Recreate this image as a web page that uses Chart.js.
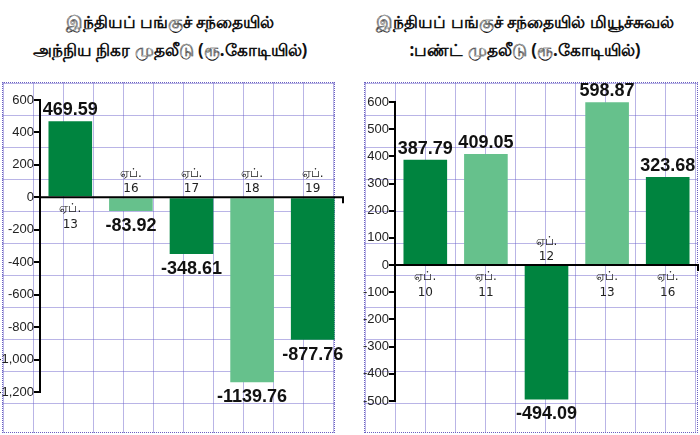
<!DOCTYPE html>
<html lang="ta">
<head>
<meta charset="UTF-8">
<title>FPI / MF</title>
<script src="https://cdn.jsdelivr.net/npm/chart.js"></script>
<style>
  body { margin: 0; width: 700px; height: 435px; background: #fff; position: relative; overflow: hidden; font-family: 'Noto Sans', 'DejaVu Sans', sans-serif; }
  .title { position: absolute; top: 8px; text-align: center; font-weight: bold; font-size: 17px; line-height: 28px; color: #111; }
  .panel {
    position: absolute; top: 82px; height: 351px; box-sizing: border-box;
    border: 1px dotted #6a5fc0;
    background-image:
      linear-gradient(to right, rgba(100,90,200,0.45) 1px, transparent 1px),
      linear-gradient(to bottom, rgba(100,90,200,0.45) 1px, transparent 1px);
    background-size: 30px 32px;
  }
  canvas { position: absolute; }
</style>
</head>
<body>
<div class="title" style="left:0;width:340px;">இந்தியப் பங்குச் சந்தையில்<br>அந்நிய நிகர முதலீடு (ரூ.கோடியில்)</div>
<div class="title" style="left:350px;width:350px;">இந்தியப் பங்குச் சந்தையில் மியூச்சுவல்<br>:பண்ட் முதலீடு (ரூ.கோடியில்)</div>
<div class="panel" style="left:2px;width:333px;"></div>
<div class="panel" style="left:364px;width:334px;"></div>
<div style="position:absolute;left:0;top:60px;width:345px;height:375px;"><canvas id="fpiChart"></canvas></div>
<div style="position:absolute;left:355px;top:60px;width:345px;height:375px;"><canvas id="mfChart"></canvas></div>
<script>
// Data
const fpiDays = ['13', '16', '17', '18', '19'];
const fpiValues = [469.59, -83.92, -348.61, -1139.76, -877.76];
const mfDays = ['10', '11', '12', '13', '16'];
const mfValues = [387.79, 409.05, -494.09, 598.87, 323.68];
const monthLabel = 'ஏப்.';

const DARK = '#00843f';
const LIGHT = '#66c18c';
const barColors = [DARK, LIGHT, DARK, LIGHT, DARK];

// zero line + category labels + value labels
const labelPlugin = {
  id: 'labelPlugin',
  afterDatasetsDraw(chart) {
    const ctx = chart.ctx;
    const y = chart.scales.y;
    const area = chart.chartArea;
    const y0 = y.getPixelForValue(0);
    ctx.save();
    ctx.strokeStyle = '#000';
    ctx.lineWidth = 2;
    ctx.beginPath();
    ctx.moveTo(area.left, y0);
    ctx.lineTo(area.right, y0);
    ctx.lineTo(area.right, y0 + 6);
    ctx.stroke();

    const meta = chart.getDatasetMeta(0);
    const vals = chart.data.datasets[0].data;
    ctx.textAlign = 'center';
    meta.data.forEach((bar, i) => {
      const v = vals[i];
      // category label on the other side of zero
      ctx.fillStyle = '#222';
      ctx.font = '12px "DejaVu Sans", sans-serif';
      if (v >= 0) {
        ctx.fillText(monthLabel, bar.x, y0 + 15);
        ctx.fillText(chart.data.labels[i], bar.x, y0 + 31);
      } else {
        ctx.fillText(monthLabel, bar.x, y0 - 20);
        ctx.fillText(chart.data.labels[i], bar.x, y0 - 5);
      }
      // value label
      ctx.fillStyle = '#111';
      ctx.font = 'bold 18px "Liberation Sans Narrow", "Arial Narrow", sans-serif';
      if (v >= 0) ctx.fillText(v.toFixed(2), bar.x, bar.y - 6);
      else ctx.fillText(v.toFixed(2), bar.x, bar.y + 20);
    });
    ctx.restore();
  }
};

function makeChart(id, labels, values, min, max, step, padTop, padBottom) {
  new Chart(document.getElementById(id), {
    type: 'bar',
    data: {
      labels: labels,
      datasets: [{ data: values, backgroundColor: barColors, barPercentage: 0.72, categoryPercentage: 1 }]
    },
    options: {
      responsive: true,
      maintainAspectRatio: false,
      animation: false,
      layout: { padding: { top: padTop, bottom: padBottom, right: 2 } },
      plugins: { legend: { display: false }, tooltip: { enabled: false } },
      scales: {
        x: { display: false },
        y: {
          min: min, max: max,
          afterFit: s => { s.width = 40; },
          border: { display: true, color: '#000', width: 2 },
          grid: { drawOnChartArea: false, color: '#000', lineWidth: 2, tickLength: 6 },
          ticks: { stepSize: step, color: '#222', padding: 0, font: { size: 13, family: '"Liberation Sans", sans-serif' } }
        }
      }
    },
    plugins: [labelPlugin]
  });
}

makeChart('fpiChart', fpiDays, fpiValues, -1200, 600, 200, 40, 43);
makeChart('mfChart', mfDays, mfValues, -500, 600, 100, 42, 34);
</script>
</body>
</html>
